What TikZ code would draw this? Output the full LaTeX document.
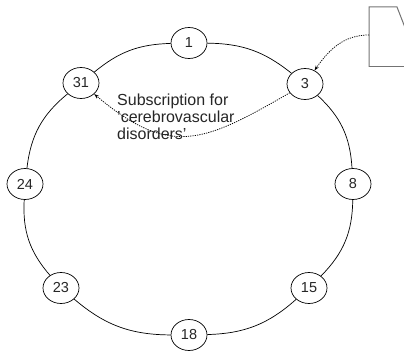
\documentclass[tikz,border=0pt]{standalone}
\usepackage{fontspec}
\setmainfont{Liberation Sans}
\usetikzlibrary{arrows.meta,shapes.geometric}
\begin{document}
\begin{tikzpicture}[x=1pt,y=1pt,
  peer/.style={draw, ellipse, line width=0.7pt, minimum width=36pt, minimum height=31pt,
    inner sep=0pt, fill=white, font=\fontsize{14.5}{16}\selectfont, text=black!85},
  ring/.style={line width=0.7pt},
  msg/.style={line width=0.75pt, dash pattern=on 1.2pt off 1.1pt,
    -{Stealth[length=5pt,width=3.5pt]}},
  doc/.style={draw=black!55, line width=1pt}]
\useasboundingbox (0,0) rectangle (404,351);
\clip (0,0) rectangle (404,351);

% chord ring peers
\node[peer] (n1)  at (189,308) {1};
\node[peer] (n3)  at (305,267) {3};
\node[peer] (n8)  at (353,167) {8};
\node[peer] (n15) at (309,63)  {15};
\node[peer] (n18) at (189,16)  {18};
\node[peer] (n23) at (61,63)   {23};
\node[peer] (n24) at (25,167)  {24};
\node[peer] (n31) at (81,268)  {31};

% ring links
\draw[ring] (n1)  to[bend left=19] (n3);
\draw[ring] (n3)  to[bend left=22] (n8);
\draw[ring] (n8)  to[bend left=22] (n15);
\draw[ring] (n15) to[bend left=20] (n18);
\draw[ring] (n18) to[bend left=20] (n23);
\draw[ring] (n23) to[bend left=22] (n24);
\draw[ring] (n24) to[bend left=22] (n31);
\draw[ring] (n31) to[bend left=19] (n1);

% incoming document
\draw[doc] (369,284) -- (369,344) -- (397,344) -- (420,285);
\draw[doc] (369,284) -- (420,284);
\coordinate (docport) at (369,316);
\draw[msg] (docport) to[out=180,in=55] (n3);

% subscription label and forwarding
\draw[msg] (n3) to[out=210,in=-40,looseness=1.3] (n31);
\node[anchor=north west, inner sep=0pt, align=left, text=black!85,
  font=\fontsize{16}{17}\selectfont] (sub) at (117,257)
  {Subscription for\\\symbol{39}cerebrovascular\\disorders\symbol{39}};
\end{tikzpicture}
\end{document}
